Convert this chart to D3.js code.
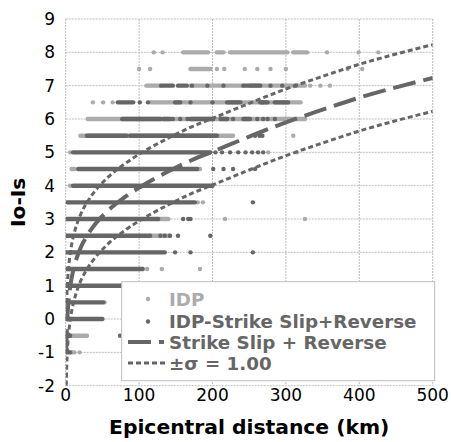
<!DOCTYPE html>
<html>
<head>
<meta charset="utf-8">
<script src="https://cdn.jsdelivr.net/npm/d3@7"></script>
<style>
  body { margin: 0; background: #fff; }
  text { font-family: "DejaVu Sans", Verdana, sans-serif; }
</style>
</head>
<body>
<script>
// axis ticks
const xTicks = [0, 100, 200, 300, 400, 500]
const yTicks = [-2, -1, 0, 1, 2, 3, 4, 5, 6, 7, 8, 9]

// IDP (light): runs of overlapping dots [level, from km, to km] and single dots [level, km]
const idpRuns = [
  [8, 160, 194], [8, 206, 215], [8, 224, 302], [8, 310, 329],
  [7.5, 170, 197],
  [7, 110, 129], [7, 170, 242], [7, 251, 326],
  [6.5, 115, 320],
  [6, 30, 326],
  [5.5, 20, 228],
  [4.5, 8, 12], [4.5, 179, 183],
  [3, 126, 140],
  [2.5, 115, 142],
  [-0.5, 6, 29],
  [-1, 6, 12]
]
const idpPoints = [
  [8, 120], [8, 132], [8, 356], [8, 399], [8, 426],
  [7.5, 100], [7.5, 115], [7.5, 206], [7.5, 216], [7.5, 244], [7.5, 261], [7.5, 279], [7.5, 300], [7.5, 384], [7.5, 404],
  [7, 333], [7, 347], [7, 360],
  [6.5, 37], [6.5, 51], [6.5, 64],
  [5.5, 310],
  [5, 6], [5, 276], [5, 315],
  [4, 6],
  [3.5, 180], [3.5, 187],
  [3, 217], [3, 326],
  [1.5, 111], [1.5, 131], [1.5, 183],
  [0.5, 53],
  [-1, 19]
]

// IDP-Strike Slip+Reverse (dark)
const ssrRuns = [
  [7, 130, 146], [7, 153, 165], [7, 242, 265],
  [6.5, 71, 92], [6.5, 149, 156], [6.5, 220, 238], [6.5, 265, 275], [6.5, 285, 303],
  [6, 77, 129], [6, 133, 142], [6, 170, 201], [6, 211, 220], [6, 242, 251],
  [5.5, 29, 83], [5.5, 88, 206],
  [5, 10, 197],
  [4.5, 17, 179],
  [4, 10, 200],
  [3.5, 2, 176],
  [3, 0, 126],
  [2.5, 0, 115],
  [2, 0, 135],
  [1.5, 0, 105],
  [1, 0, 100],
  [0.5, 0, 51],
  [0, 0, 50],
  [-0.5, 0, 6],
  [-1, 0, 6]
]
const ssrPoints = [
  [7, 172], [7, 193], [7, 215], [7, 279], [7, 295], [7, 313],
  [6.5, 101], [6.5, 112], [6.5, 170], [6.5, 200], [6.5, 268],
  [6, 146], [6, 156], [6, 166], [6, 228], [6, 261], [6, 269], [6, 275], [6, 285],
  [5.5, 258], [5.5, 264], [5.5, 268],
  [5, 204], [5, 213], [5, 224], [5, 235], [5, 245], [5, 254], [5, 262], [5, 269],
  [4.5, 201], [4.5, 215], [4.5, 228], [4.5, 258],
  [3.5, 255],
  [3, 160], [3, 167], [3, 170],
  [2.5, 129], [2.5, 135], [2.5, 142], [2.5, 153], [2.5, 197],
  [2, 149], [2, 170], [2, 255],
  [-0.5, 74]
]

// attenuation curves
const curveR     = [0.75, 1, 2, 3, 5, 7.5, 10, 15, 20, 30, 40, 56, 80, 106, 140, 174, 200, 250, 300, 350, 400, 450, 500]
const curveMid   = [-1.0, -0.73, -0.09, 0.29, 0.77, 1.16, 1.43, 1.83, 2.12, 2.53, 2.84, 3.22, 3.65, 4.02, 4.43, 4.79, 5.02, 5.47, 5.9, 6.28, 6.64, 6.95, 7.23]
const curveUpper = [0.0, 0.27, 0.91, 1.29, 1.77, 2.16, 2.43, 2.83, 3.12, 3.53, 3.84, 4.22, 4.65, 5.02, 5.43, 5.79, 6.02, 6.47, 6.9, 7.28, 7.64, 7.95, 8.23]
const curveLower = [-2.0, -1.73, -1.09, -0.71, -0.23, 0.16, 0.43, 0.83, 1.12, 1.53, 1.84, 2.22, 2.65, 3.02, 3.43, 3.79, 4.02, 4.47, 4.9, 5.28, 5.64, 5.95, 6.23]

const legendLabels = ['IDP', 'IDP-Strike Slip+Reverse', 'Strike Slip + Reverse', '\u00b1\u03c3 = 1.00']

const m = { width: 451, height: 442 }
const plot = { left: 65.7, right: 432.7, top: 19, bottom: 385.7 }
const light = '#ababab'
const dark = '#666666'
const dotR = 2.2

const svg = d3.select('body').append('svg')
    .attr('width', m.width)
    .attr('height', m.height)

const x = d3.scaleLinear().domain([0, 500]).range([plot.left, plot.right])
const y = d3.scaleLinear().domain([-2, 9]).range([plot.bottom, plot.top])

svg.append('clipPath').attr('id', 'clip')
  .append('rect')
    .attr('x', plot.left).attr('y', plot.top)
    .attr('width', plot.right - plot.left).attr('height', plot.bottom - plot.top)

// grid
const grid = svg.append('g')
grid.selectAll('.hg').data(yTicks).enter().append('line')
    .attr('x1', plot.left).attr('x2', plot.right)
    .attr('y1', d => y(d)).attr('y2', d => y(d))
    .attr('stroke', '#bdbdbd').attr('stroke-dasharray', '2,1')
grid.selectAll('.vg').data(xTicks).enter().append('line')
    .attr('y1', plot.top).attr('y2', plot.bottom)
    .attr('x1', d => x(d)).attr('x2', d => x(d))
    .attr('stroke', '#bdbdbd').attr('stroke-dasharray', '2,1')

// tick labels
svg.append('g').selectAll('text').data(yTicks).enter().append('text')
    .attr('x', 55).attr('y', d => y(d))
    .attr('text-anchor', 'end').attr('dominant-baseline', 'central')
    .attr('font-size', 17).text(d => d)
svg.append('g').selectAll('text').data(xTicks).enter().append('text')
    .attr('x', d => x(d)).attr('y', 395)
    .attr('text-anchor', 'middle').attr('dominant-baseline', 'central')
    .attr('font-size', 17).text(d => d)

// axis titles
svg.append('text')
    .attr('x', (plot.left + plot.right) / 2).attr('y', 427)
    .attr('text-anchor', 'middle').attr('dominant-baseline', 'central')
    .attr('font-size', 20.3).attr('font-weight', 'bold').text('Epicentral distance (km)')
svg.append('text')
    .attr('transform', `translate(18,${(plot.top + plot.bottom) / 2}) rotate(-90)`)
    .attr('text-anchor', 'middle').attr('dominant-baseline', 'central')
    .attr('font-size', 20.3).attr('font-weight', 'bold').text('Io-Is')

const g = svg.append('g').attr('clip-path', 'url(#clip)')

function drawSeries(runs, pts, color) {
  g.append('g').selectAll('line').data(runs).enter().append('line')
      .attr('x1', d => x(d[1])).attr('x2', d => x(d[2]))
      .attr('y1', d => y(d[0])).attr('y2', d => y(d[0]))
      .attr('stroke', color).attr('stroke-width', dotR * 2).attr('stroke-linecap', 'round')
  g.append('g').selectAll('circle').data(pts).enter().append('circle')
      .attr('cx', d => x(d[1])).attr('cy', d => y(d[0]))
      .attr('r', dotR).attr('fill', color)
}
drawSeries(idpRuns, idpPoints, light)
drawSeries(ssrRuns, ssrPoints, dark)

const line = d3.line()
    .x(d => x(d[0])).y(d => y(d[1]))
    .curve(d3.curveMonotoneX)

function drawCurve(vals, width, dash) {
  g.append('path')
      .datum(curveR.map((r, i) => [r, vals[i]]))
      .attr('d', line)
      .attr('fill', 'none').attr('stroke', dark)
      .attr('stroke-width', width).attr('stroke-dasharray', dash)
}
drawCurve(curveUpper, 3, '5,3')
drawCurve(curveLower, 3, '5,3')
drawCurve(curveMid, 4, '23,8')

// legend
const lg = svg.append('g')
lg.append('rect')
    .attr('x', 121.7).attr('y', 281.7).attr('width', 313).attr('height', 99)
    .attr('fill', '#fff').attr('stroke', '#bdbdbd')
const rowY = [299, 321.5, 342, 363]
lg.append('circle').attr('cx', 148).attr('cy', rowY[0]).attr('r', dotR).attr('fill', light)
lg.append('circle').attr('cx', 148).attr('cy', rowY[1]).attr('r', dotR).attr('fill', dark)
lg.append('line').attr('x1', 128).attr('x2', 164).attr('y1', rowY[2]).attr('y2', rowY[2])
    .attr('stroke', dark).attr('stroke-width', 4).attr('stroke-dasharray', '23,8')
lg.append('line').attr('x1', 128).attr('x2', 166).attr('y1', rowY[3]).attr('y2', rowY[3])
    .attr('stroke', dark).attr('stroke-width', 3).attr('stroke-dasharray', '5,3')
lg.selectAll('.lt').data(legendLabels).enter().append('text')
    .attr('x', 169).attr('y', (d, i) => rowY[i])
    .attr('dominant-baseline', 'central')
    .attr('font-size', 18.3).attr('font-weight', 'bold')
    .attr('fill', (d, i) => i === 0 ? light : dark)
    .text(d => d)
</script>
</body>
</html>
